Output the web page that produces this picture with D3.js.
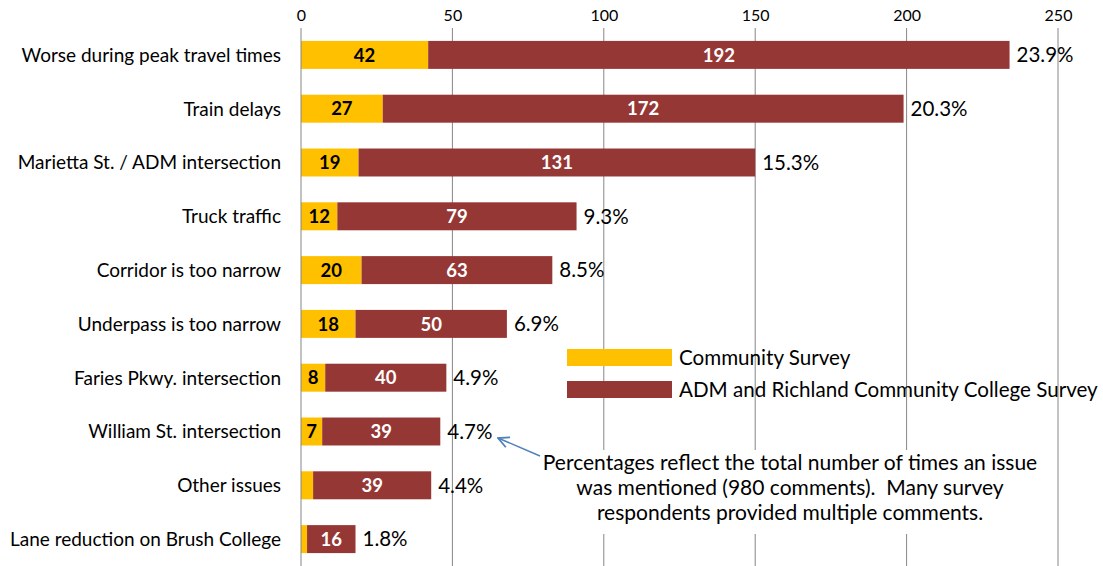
<!DOCTYPE html>
<meta charset="utf-8">
<script src="https://d3js.org/d3.v7.min.js"></script>
<style>
  body { margin: 0; background: #fff; }
  text { font-family: Lato, "Open Sans", sans-serif; }
</style>
<div id="chart"></div>
<script>
    // data
    var issues = ["Worse during peak travel times", "Train delays", "Marietta St. / ADM intersection",
        "Truck traffic", "Corridor is too narrow", "Underpass is too narrow", "Faries Pkwy. intersection",
        "William St. intersection", "Other issues", "Lane reduction on Brush College"];
    var community = [42, 27, 19, 12, 20, 18, 8, 7, 4, 2];
    var admRichland = [192, 172, 131, 79, 63, 50, 40, 39, 39, 16];
    var percentLabels = ["23.9%", "20.3%", "15.3%", "9.3%", "8.5%", "6.9%", "4.9%", "4.7%", "4.4%", "1.8%"];
    var xTicks = [0, 50, 100, 150, 200, 250];
    var seriesNames = ["Community Survey", "ADM and Richland Community College Survey"];
    var noteLines = ["Percentages reflect the total number of times an issue",
        "was mentioned (980 comments).  Many survey",
        "respondents provided multiple comments."];

    var W = 1103, H = 566;
    var margin = { top: 28, right: 45, bottom: 0, left: 301 },
        width = 1058 - margin.left,
        height = H - margin.top;

    var svg = d3.select("#chart").append("svg")
        .attr("width", W).attr("height", H)
        .append("g")
        .attr("transform", "translate(" + margin.left + "," + margin.top + ")");

    var x = d3.scaleLinear().domain([0, 250]).range([0, width]);
    var y = d3.scaleBand().domain(issues).range([0, height]).paddingInner(0.48).paddingOuter(0.24);

    // gridlines
    svg.selectAll(".grid").data(xTicks.slice(1)).enter().append("line")
        .attr("x1", d => x(d)).attr("x2", d => x(d))
        .attr("y1", 0).attr("y2", height)
        .attr("stroke", "#868686").attr("stroke-width", 1);

    // top axis
    var axis = svg.append("g").call(d3.axisTop(x).tickValues(xTicks).tickSize(0).tickPadding(4));
    axis.select(".domain").remove();
    axis.selectAll("text").style("font-size", "16px").style("font-family", "Lato, sans-serif")
        .attr("fill", "#000").attr("dy", "-0.2em");

    var rows = issues.map(function (d, i) {
        return { name: d, a: community[i], b: admRichland[i], pct: percentLabels[i] };
    });

    // community bars
    svg.selectAll(".barA").data(rows).enter().append("rect")
        .attr("x", x(0)).attr("y", d => y(d.name))
        .attr("width", d => x(d.a) - x(0)).attr("height", y.bandwidth())
        .attr("fill", "#FFC000");

    // ADM bars
    svg.selectAll(".barB").data(rows).enter().append("rect")
        .attr("x", d => x(d.a)).attr("y", d => y(d.name))
        .attr("width", d => x(d.a + d.b) - x(d.a)).attr("height", y.bandwidth())
        .attr("fill", "#953735");

    // value labels
    svg.selectAll(".labA").data(rows.filter(d => d.a >= 5)).enter().append("text")
        .attr("x", d => x(d.a / 2)).attr("y", d => y(d.name) + y.bandwidth() / 2)
        .attr("dy", "0.36em").attr("text-anchor", "middle")
        .style("font-size", "18.5px").style("font-weight", "bold").attr("fill", "#000")
        .text(d => d.a);
    svg.selectAll(".labB").data(rows).enter().append("text")
        .attr("x", d => x(d.a + d.b / 2)).attr("y", d => y(d.name) + y.bandwidth() / 2)
        .attr("dy", "0.36em").attr("text-anchor", "middle")
        .style("font-size", "18.5px").style("font-weight", "bold").attr("fill", "#fff")
        .text(d => d.b);

    // percentages
    svg.selectAll(".pct").data(rows).enter().append("text")
        .attr("x", d => x(d.a + d.b) + 7).attr("y", d => y(d.name) + y.bandwidth() / 2)
        .attr("dy", "0.36em").style("font-size", "20.5px").attr("fill", "#000")
        .text(d => d.pct);

    // category labels
    svg.selectAll(".cat").data(rows).enter().append("text")
        .attr("x", -20).attr("y", d => y(d.name) + y.bandwidth() / 2)
        .attr("dy", "0.36em").attr("text-anchor", "end")
        .style("font-size", "19px").attr("fill", "#000")
        .text(d => d.name);

    // left axis line
    svg.append("line").attr("x1", 0).attr("x2", 0).attr("y1", 0).attr("y2", height)
        .attr("stroke", "#868686");

    // legend
    var legend = svg.append("g").attr("transform", "translate(" + (567 - margin.left) + "," + (349 - margin.top) + ")");
    var legColors = ["#FFC000", "#953735"];
    seriesNames.forEach(function (n, i) {
        legend.append("rect").attr("x", 0).attr("y", i * 32).attr("width", 105).attr("height", 17)
            .attr("fill", legColors[i]);
        legend.append("text").attr("x", 112).attr("y", i * 32 + 8.5).attr("dy", "0.36em")
            .style("font-size", "20.6px").attr("fill", "#000").text(n);
    });

    // note box (white background hides gridlines)
    var note = svg.append("g").attr("transform", "translate(" + (790 - margin.left) + "," + (450 - margin.top) + ")");
    note.append("rect").attr("x", -255).attr("y", 0).attr("width", 510).attr("height", 84).attr("fill", "#fff");
    noteLines.forEach(function (t, i) {
        note.append("text").attr("x", 0).attr("y", 12 + i * 25).attr("dy", "0.36em")
            .attr("text-anchor", "middle").style("font-size", "21px").attr("fill", "#000")
            .style("white-space", "pre").text(t);
    });

    // arrow to the William St. percentage
    svg.append("defs").append("marker").attr("id", "arr").attr("viewBox", "0 0 10 10")
        .attr("refX", 9).attr("refY", 5).attr("markerWidth", 9).attr("markerHeight", 9)
        .attr("orient", "auto")
        .append("path").attr("d", "M1,1 L9,5 L1,9").attr("fill", "none").attr("stroke", "#4F81BD").attr("stroke-width", 1.3);
    svg.append("line")
        .attr("x1", 540 - margin.left).attr("y1", 456 - margin.top)
        .attr("x2", 498 - margin.left).attr("y2", 438 - margin.top)
        .attr("stroke", "#4F81BD").attr("stroke-width", 1.5).attr("marker-end", "url(#arr)");
</script>
